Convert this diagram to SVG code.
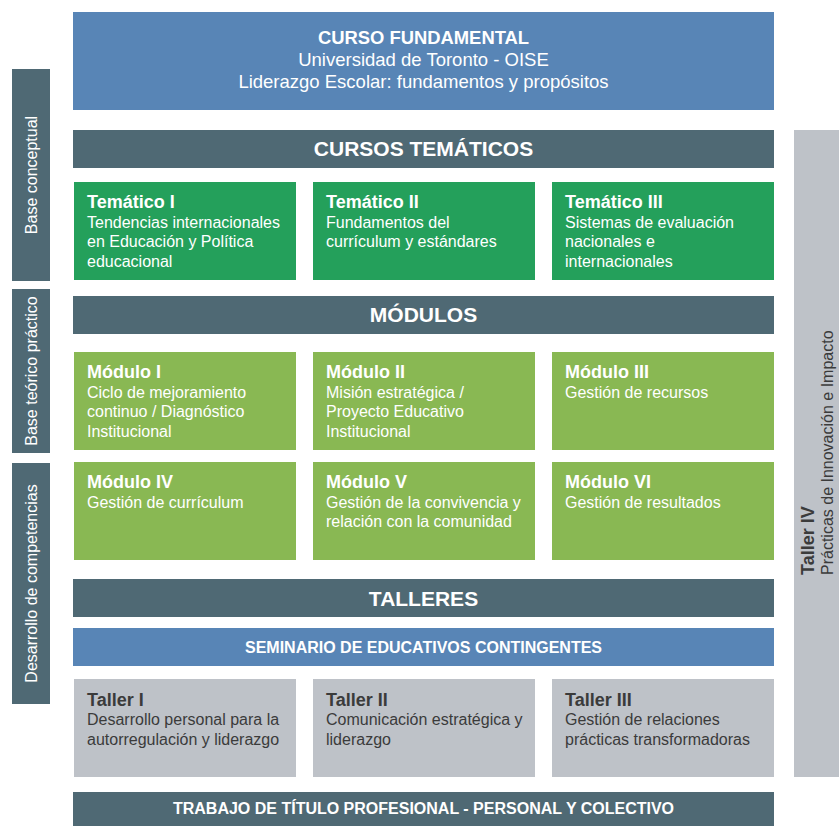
<svg xmlns="http://www.w3.org/2000/svg" width="839" height="826" viewBox="0 0 839 826">
<style>
text{font-family:"Liberation Sans",Arial,sans-serif}
.blue{fill:#5885B6}
.slate{fill:#4F6974}
.green{fill:#24A05B}
.lgreen{fill:#89B853}
.gray{fill:#BEC2C8}
.w{fill:#ffffff}
.d{fill:#3b3b3b}
.ttl{font-size:18px;font-weight:bold}
.bd{font-size:16px}
.hdr{font-size:21px;font-weight:bold;text-anchor:middle;fill:#ffffff}
.bar{font-size:16px;font-weight:bold;text-anchor:middle;fill:#ffffff}
.side{font-size:16px;fill:#ffffff;text-anchor:middle}
</style>
<rect width="839" height="826" fill="#ffffff"/>

<g id="curso-fundamental">
<rect class="blue" x="73" y="12" width="701" height="98"/>
<text class="w" x="423.5" y="43.5" text-anchor="middle" font-size="18.4" font-weight="bold">CURSO FUNDAMENTAL</text>
<text class="w" x="423.5" y="65.7" text-anchor="middle" font-size="18.5">Universidad de Toronto - OISE</text>
<text class="w" x="423.5" y="88" text-anchor="middle" font-size="18.5">Liderazgo Escolar: fundamentos y propósitos</text>
</g>

<g id="side-base-conceptual">
<rect class="slate" x="12" y="69" width="38" height="212"/>
<text class="side" transform="translate(37,175) rotate(-90)">Base conceptual</text>
</g>
<g id="side-base-teorico">
<rect class="slate" x="12" y="289" width="38" height="164"/>
<text class="side" transform="translate(37,371) rotate(-90)">Base teórico práctico</text>
</g>
<g id="side-desarrollo">
<rect class="slate" x="12" y="463" width="38" height="241"/>
<text class="side" transform="translate(37,583.5) rotate(-90)">Desarrollo de competencias</text>
</g>

<g id="taller-iv">
<rect class="gray" x="794" y="130" width="45" height="647"/>
<text class="d ttl" transform="translate(814,575) rotate(-90)">Taller IV</text>
<text class="d bd" transform="translate(833,575) rotate(-90)">Prácticas de Innovación e Impacto</text>
</g>

<g id="cursos-tematicos">
<rect class="slate" x="73" y="130" width="701" height="38"/>
<text class="hdr" x="423.5" y="156">CURSOS TEMÁTICOS</text>
</g>

<g id="tematico-1">
<rect class="green" x="74" y="182" width="222" height="98"/>
<text class="w ttl" x="87" y="208">Temático I</text>
<text class="w bd" x="87" y="227.5">Tendencias internacionales</text>
<text class="w bd" x="87" y="247">en Educación y Política</text>
<text class="w bd" x="87" y="266.5">educacional</text>
</g>
<g id="tematico-2">
<rect class="green" x="313" y="182" width="222" height="98"/>
<text class="w ttl" x="326" y="208">Temático II</text>
<text class="w bd" x="326" y="227.5">Fundamentos del</text>
<text class="w bd" x="326" y="247">currículum y estándares</text>
</g>
<g id="tematico-3">
<rect class="green" x="552" y="182" width="222" height="98"/>
<text class="w ttl" x="565" y="208">Temático III</text>
<text class="w bd" x="565" y="227.5">Sistemas de evaluación</text>
<text class="w bd" x="565" y="247">nacionales e</text>
<text class="w bd" x="565" y="266.5">internacionales</text>
</g>

<g id="modulos">
<rect class="slate" x="73" y="296" width="701" height="38"/>
<text class="hdr" x="423.5" y="322">MÓDULOS</text>
</g>

<g id="modulo-1">
<rect class="lgreen" x="74" y="352" width="222" height="98"/>
<text class="w ttl" x="87" y="378">Módulo I</text>
<text class="w bd" x="87" y="397.5">Ciclo de mejoramiento</text>
<text class="w bd" x="87" y="417">continuo / Diagnóstico</text>
<text class="w bd" x="87" y="436.5">Institucional</text>
</g>
<g id="modulo-2">
<rect class="lgreen" x="313" y="352" width="222" height="98"/>
<text class="w ttl" x="326" y="378">Módulo II</text>
<text class="w bd" x="326" y="397.5">Misión estratégica /</text>
<text class="w bd" x="326" y="417">Proyecto Educativo</text>
<text class="w bd" x="326" y="436.5">Institucional</text>
</g>
<g id="modulo-3">
<rect class="lgreen" x="552" y="352" width="222" height="98"/>
<text class="w ttl" x="565" y="378">Módulo III</text>
<text class="w bd" x="565" y="397.5">Gestión de recursos</text>
</g>
<g id="modulo-4">
<rect class="lgreen" x="74" y="462" width="222" height="98"/>
<text class="w ttl" x="87" y="488">Módulo IV</text>
<text class="w bd" x="87" y="507.5">Gestión de currículum</text>
</g>
<g id="modulo-5">
<rect class="lgreen" x="313" y="462" width="222" height="98"/>
<text class="w ttl" x="326" y="488">Módulo V</text>
<text class="w bd" x="326" y="507.5">Gestión de la convivencia y</text>
<text class="w bd" x="326" y="527">relación con la comunidad</text>
</g>
<g id="modulo-6">
<rect class="lgreen" x="552" y="462" width="222" height="98"/>
<text class="w ttl" x="565" y="488">Módulo VI</text>
<text class="w bd" x="565" y="507.5">Gestión de resultados</text>
</g>

<g id="talleres">
<rect class="slate" x="73" y="579" width="701" height="38"/>
<text class="hdr" x="423.5" y="605.5">TALLERES</text>
</g>

<g id="seminario">
<rect class="blue" x="73" y="628" width="701" height="38"/>
<text class="bar" x="423.5" y="652.5">SEMINARIO DE EDUCATIVOS CONTINGENTES</text>
</g>

<g id="taller-1">
<rect class="gray" x="74" y="679" width="222" height="98"/>
<text class="d ttl" x="87" y="705.5">Taller I</text>
<text class="d bd" x="87" y="725">Desarrollo personal para la</text>
<text class="d bd" x="87" y="744.5">autorregulación y liderazgo</text>
</g>
<g id="taller-2">
<rect class="gray" x="313" y="679" width="222" height="98"/>
<text class="d ttl" x="326" y="705.5">Taller II</text>
<text class="d bd" x="326" y="725">Comunicación estratégica y</text>
<text class="d bd" x="326" y="744.5">liderazgo</text>
</g>
<g id="taller-3">
<rect class="gray" x="552" y="679" width="222" height="98"/>
<text class="d ttl" x="565" y="705.5">Taller III</text>
<text class="d bd" x="565" y="725">Gestión de relaciones</text>
<text class="d bd" x="565" y="744.5">prácticas transformadoras</text>
</g>

<g id="trabajo-titulo">
<rect class="slate" x="73" y="792" width="701" height="34"/>
<text class="bar" x="423.5" y="814">TRABAJO DE TÍTULO PROFESIONAL - PERSONAL Y COLECTIVO</text>
</g>

<g id="connectors"></g>
</svg>
